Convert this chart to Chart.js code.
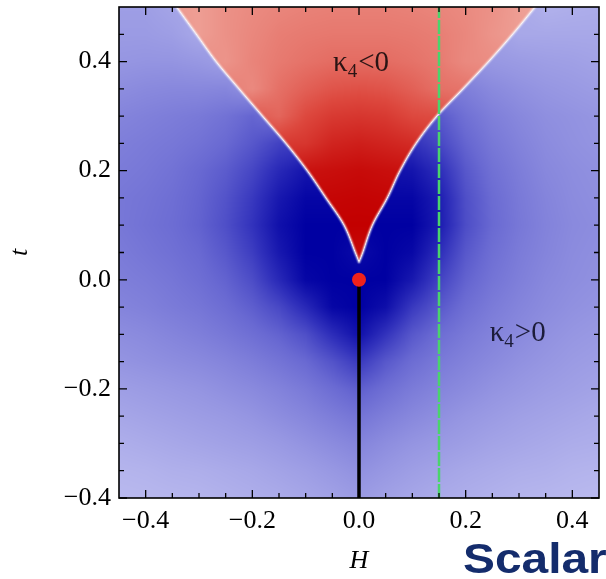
<!DOCTYPE html>
<html>
<head>
<meta charset="utf-8">
<script src="https://cdn.jsdelivr.net/npm/chart.js@4.4.1/dist/chart.umd.min.js"></script>
<style>
  html, body { margin: 0; padding: 0; background: #fff; }
  #wrap { width: 606px; height: 579px; position: relative; }
</style>
</head>
<body>
<div id="wrap"><canvas id="c" width="606" height="579"></canvas></div>
<script>
// ---- axis ranges and ticks -------------------------------------------
const hRange = [-0.45, 0.45];
const tRange = [-0.4, 0.5];
const majorTicksH = [-0.4, -0.2, 0, 0.2, 0.4];
const majorTicksT = [-0.4, -0.2, 0, 0.2, 0.4];
const minorTicksH = [-0.35, -0.3, -0.25, -0.15, -0.1, -0.05, 0.05, 0.1, 0.15, 0.25, 0.3, 0.35];
const minorTicksT = [-0.35, -0.3, -0.25, -0.15, -0.1, -0.05, 0.05, 0.1, 0.15, 0.25, 0.3, 0.35, 0.45];

// ---- |kappa_4| (normalised) on a regular H-t grid --------------------
const gridH = [-0.45, -0.4, -0.35, -0.3, -0.25, -0.2, -0.15, -0.1, -0.05, 0,
               0.05, 0.1, 0.15, 0.2, 0.25, 0.3, 0.35, 0.4, 0.45];
const gridT = [0.5, 0.45, 0.4, 0.35, 0.3, 0.25, 0.2, 0.15, 0.1, 0.05, 0,
               -0.05, -0.1, -0.15, -0.2, -0.25, -0.3, -0.35, -0.4];
const kappaMagnitude = [
  [0.20,0.20,0.16,0.14,0.22,0.26,0.29,0.31,0.32,0.32,0.32,0.31,0.29,0.26,0.22,0.14,0.08,0.10,0.11],
  [0.22,0.22,0.20,0.14,0.22,0.28,0.33,0.35,0.36,0.36,0.36,0.35,0.33,0.28,0.20,0.14,0.14,0.14,0.14],
  [0.25,0.26,0.26,0.24,0.20,0.30,0.35,0.39,0.42,0.42,0.42,0.39,0.35,0.27,0.24,0.22,0.20,0.19,0.17],
  [0.30,0.32,0.33,0.33,0.34,0.27,0.40,0.48,0.54,0.56,0.54,0.48,0.40,0.38,0.32,0.28,0.25,0.23,0.21],
  [0.35,0.37,0.39,0.41,0.45,0.52,0.45,0.60,0.68,0.70,0.68,0.60,0.58,0.46,0.38,0.33,0.29,0.27,0.25],
  [0.38,0.40,0.42,0.45,0.50,0.58,0.68,0.70,0.80,0.83,0.80,0.76,0.66,0.52,0.42,0.36,0.31,0.28,0.26],
  [0.40,0.42,0.45,0.50,0.56,0.66,0.80,0.90,0.92,0.94,0.92,0.90,0.78,0.58,0.46,0.39,0.33,0.30,0.28],
  [0.42,0.44,0.47,0.52,0.60,0.72,0.88,0.97,0.97,0.98,0.97,0.97,0.86,0.62,0.49,0.41,0.35,0.31,0.29],
  [0.42,0.45,0.48,0.53,0.62,0.75,0.92,1.00,1.00,1.00,1.00,1.00,0.87,0.63,0.50,0.42,0.36,0.32,0.30],
  [0.40,0.43,0.46,0.50,0.58,0.70,0.88,1.00,1.00,0.95,1.00,0.96,0.78,0.58,0.47,0.40,0.35,0.31,0.29],
  [0.38,0.40,0.43,0.47,0.53,0.63,0.80,0.97,1.00,1.00,1.00,0.88,0.68,0.53,0.44,0.38,0.33,0.30,0.28],
  [0.35,0.37,0.40,0.43,0.48,0.55,0.65,0.80,0.97,1.00,0.93,0.72,0.58,0.47,0.40,0.35,0.31,0.28,0.26],
  [0.30,0.32,0.35,0.38,0.42,0.47,0.53,0.62,0.78,0.92,0.75,0.58,0.48,0.41,0.36,0.32,0.28,0.25,0.23],
  [0.26,0.28,0.30,0.32,0.35,0.39,0.44,0.50,0.60,0.72,0.58,0.48,0.41,0.36,0.32,0.28,0.25,0.22,0.20],
  [0.20,0.22,0.24,0.26,0.29,0.32,0.36,0.41,0.48,0.55,0.47,0.40,0.35,0.31,0.27,0.24,0.21,0.19,0.17],
  [0.15,0.17,0.19,0.21,0.23,0.26,0.30,0.34,0.39,0.44,0.38,0.33,0.29,0.25,0.22,0.19,0.17,0.15,0.13],
  [0.10,0.12,0.14,0.16,0.18,0.20,0.23,0.27,0.31,0.35,0.30,0.26,0.23,0.20,0.17,0.15,0.13,0.11,0.10],
  [0.06,0.07,0.09,0.10,0.12,0.14,0.17,0.20,0.24,0.28,0.24,0.20,0.17,0.14,0.12,0.10,0.09,0.07,0.06],
  [0.03,0.04,0.05,0.06,0.08,0.10,0.12,0.15,0.18,0.22,0.18,0.15,0.12,0.10,0.08,0.06,0.05,0.04,0.03]
];

// ---- kappa_4 = 0 contour (edges of the negative wedge) ---------------
const zeroT      = [0.033, 0.05,  0.1,   0.15,  0.2,   0.25,  0.3,   0.35,  0.4,   0.45,  0.5,   0.55];
const zeroLeftH  = [0,    -0.007, -0.028, -0.062, -0.097, -0.137, -0.181, -0.225, -0.268, -0.305, -0.342, -0.378];
const zeroRightH = [0,     0.007,  0.025,  0.053,  0.077,  0.107,  0.146,  0.195,  0.243,  0.288,  0.33,   0.371];

// ---- overlaid lines and the critical point ---------------------------
const crossoverH = [0, 0];
const crossoverT = [0, -0.4];
const criticalH = [0];
const criticalT = [0];
const probeH = [0.15, 0.15];
const probeT = [-0.4, 0.5];

// ---- colour ramps for the two signs ----------------------------------
const blueRamp = [[0, 190,190,240], [0.25, 150,150,226], [0.5, 105,105,210], [0.75, 50,50,188], [1, 0,0,162]];
const redRamp  = [[0, 242,180,170], [0.3, 233,132,122], [0.6, 221,72,62], [1, 195,0,0]];

function ramp(stops, v) {
  v = Math.max(0, Math.min(1, v));
  for (let i = 1; i < stops.length; i++) {
    if (v <= stops[i][0]) {
      const a = stops[i - 1], b = stops[i];
      const f = (v - a[0]) / (b[0] - a[0]);
      return [a[1] + (b[1] - a[1]) * f, a[2] + (b[2] - a[2]) * f, a[3] + (b[3] - a[3]) * f];
    }
  }
  const l = stops[stops.length - 1];
  return [l[1], l[2], l[3]];
}

function sampleMagnitude(H, t) {
  const nx = gridH.length, ny = gridT.length;
  let fx = (H - gridH[0]) / (gridH[1] - gridH[0]);
  let fy = (gridT[0] - t) / (gridT[0] - gridT[1]);
  fx = Math.max(0, Math.min(nx - 1.0001, fx));
  fy = Math.max(0, Math.min(ny - 1.0001, fy));
  const i = Math.floor(fx), j = Math.floor(fy);
  const u = fx - i, v = fy - j;
  const r0 = kappaMagnitude[j], r1 = kappaMagnitude[j + 1];
  return (r0[i] * (1 - u) + r0[i + 1] * u) * (1 - v) + (r1[i] * (1 - u) + r1[i + 1] * u) * v;
}

// smooth curve (Catmull-Rom) through the contour points of one edge
function smoothEdge(hs, ts, steps) {
  const out = [];
  const n = hs.length;
  const P = i => [hs[Math.max(0, Math.min(n - 1, i))], ts[Math.max(0, Math.min(n - 1, i))]];
  for (let i = 0; i < n - 1; i++) {
    const p0 = P(i - 1), p1 = P(i), p2 = P(i + 1), p3 = P(i + 2);
    for (let s = 0; s < steps; s++) {
      const u = s / steps, u2 = u * u, u3 = u2 * u;
      const f = k => 0.5 * ((2 * p1[k]) + (-p0[k] + p2[k]) * u +
        (2 * p0[k] - 5 * p1[k] + 4 * p2[k] - p3[k]) * u2 + (-p0[k] + 3 * p1[k] - 3 * p2[k] + p3[k]) * u3);
      out.push([f(0), f(1)]);
    }
  }
  out.push([hs[n - 1], ts[n - 1]]);
  return out;
}

function edgeAt(edge, t) {
  if (t <= edge[0][1]) return edge[0][0];
  for (let i = 0; i < edge.length - 1; i++) {
    const a = edge[i], b = edge[i + 1];
    if (t <= b[1]) return a[0] + (b[0] - a[0]) * (t - a[1]) / ((b[1] - a[1]) || 1e-9);
  }
  return edge[edge.length - 1][0];
}

function segDist(px, py, ax, ay, bx, by) {
  const dx = bx - ax, dy = by - ay;
  const len2 = dx * dx + dy * dy;
  let s = len2 > 0 ? ((px - ax) * dx + (py - ay) * dy) / len2 : 0;
  s = Math.max(0, Math.min(1, s));
  const qx = ax + s * dx - px, qy = ay + s * dy - py;
  return Math.sqrt(qx * qx + qy * qy);
}

function buildDensity(xs, ys, area) {
  const w = Math.round(area.right - area.left), h = Math.round(area.bottom - area.top);
  const off = document.createElement('canvas');
  off.width = w; off.height = h;
  const octx = off.getContext('2d');
  const img = octx.createImageData(w, h);
  const colH = new Float64Array(w), rowT = new Float64Array(h);
  for (let i = 0; i < w; i++) colH[i] = xs.getValueForPixel(area.left + i + 0.5);
  for (let j = 0; j < h; j++) rowT[j] = ys.getValueForPixel(area.top + j + 0.5);

  const leftEdge = smoothEdge(zeroLeftH, zeroT, 8);
  const rightEdge = smoothEdge(zeroRightH, zeroT, 8);
  const toPix = p => [xs.getPixelForValue(p[0]) - area.left, ys.getPixelForValue(p[1]) - area.top];
  const poly = leftEdge.slice().reverse().map(toPix).concat(rightEdge.slice(1).map(toPix));
  const tipT = zeroT[0];

  const d = img.data;
  for (let j = 0; j < h; j++) {
    const t = rowT[j];
    const hl = edgeAt(leftEdge, t), hr = edgeAt(rightEdge, t);
    for (let i = 0; i < w; i++) {
      const H = colH[i];
      const m = sampleMagnitude(H, t);
      const neg = t > tipT && H > hl && H < hr;
      const c = neg ? ramp(redRamp, m) : ramp(blueRamp, m);
      const px = i + 0.5, py = j + 0.5;
      let dist = 1e9;
      for (let k = 0; k < poly.length - 1; k++) {
        const pa = poly[k], pb = poly[k + 1];
        if (Math.abs(pa[1] - py) > 40 && Math.abs(pb[1] - py) > 40 &&
            Math.sign(pa[1] - py) === Math.sign(pb[1] - py)) continue;
        const e = segDist(px, py, pa[0], pa[1], pb[0], pb[1]);
        if (e < dist) dist = e;
      }
      let f = Math.min(1, dist / 3.2);
      f = f * (2 - f);
      const o = (j * w + i) * 4;
      d[o]     = 250 + (c[0] - 250) * f;
      d[o + 1] = 245 + (c[1] - 245) * f;
      d[o + 2] = 248 + (c[2] - 248) * f;
      d[o + 3] = 255;
    }
  }
  octx.putImageData(img, 0, 0);
  return off;
}

const densityPlugin = {
  id: 'kappaDensity',
  beforeDatasetsDraw(chart) {
    const { ctx, chartArea: a, scales } = chart;
    if (!chart.$density) chart.$density = buildDensity(scales.x, scales.y, a);
    ctx.save();
    ctx.drawImage(chart.$density, a.left, a.top);
    ctx.restore();
  }
};

function drawKappa(ctx, x, y, rel, align) {
  const big = '29px "Liberation Serif"', small = '19px "Liberation Serif"';
  ctx.font = big; const w1 = ctx.measureText('\u03BA').width;
  ctx.font = small; const w2 = ctx.measureText('4').width;
  ctx.font = big; const w3 = ctx.measureText(rel).width;
  const total = w1 + w2 + w3;
  const x0 = align === 'center' ? x - total / 2 : x;
  ctx.textAlign = 'left';
  ctx.textBaseline = 'alphabetic';
  ctx.font = big; ctx.fillText('\u03BA', x0, y);
  ctx.font = small; ctx.fillText('4', x0 + w1, y + 6);
  ctx.font = big; ctx.fillText(rel, x0 + w1 + w2 + 1, y);
}

const framePlugin = {
  id: 'frameTicks',
  afterDatasetsDraw(chart) {
    const { ctx, chartArea: a, scales: { x, y } } = chart;
    ctx.save();
    ctx.strokeStyle = '#000';
    ctx.lineWidth = 1.6;
    ctx.strokeRect(a.left, a.top, a.right - a.left, a.bottom - a.top);
    ctx.lineWidth = 1.3;
    ctx.beginPath();
    const tickX = (vals, len) => vals.forEach(v => {
      const px = x.getPixelForValue(v);
      ctx.moveTo(px, a.bottom); ctx.lineTo(px, a.bottom - len);
      ctx.moveTo(px, a.top); ctx.lineTo(px, a.top + len);
    });
    const tickY = (vals, len) => vals.forEach(v => {
      const py = y.getPixelForValue(v);
      ctx.moveTo(a.left, py); ctx.lineTo(a.left + len, py);
      ctx.moveTo(a.right, py); ctx.lineTo(a.right - len, py);
    });
    tickX(majorTicksH, 8); tickX(minorTicksH, 5);
    tickY(majorTicksT, 8); tickY(minorTicksT, 5);
    ctx.stroke();

    // region labels
    ctx.fillStyle = '#2a1414';
    drawKappa(ctx, x.getPixelForValue(0.003), y.getPixelForValue(0.383), '<0', 'center');
    ctx.fillStyle = '#1c1c3a';
    drawKappa(ctx, x.getPixelForValue(0.245), y.getPixelForValue(-0.113), '>0', 'left');
    ctx.restore();
  },
  afterDraw(chart) {
    const ctx = chart.ctx;
    ctx.save();
    ctx.fillStyle = '#142c6c';
    ctx.font = 'bold 42px "Liberation Sans"';
    ctx.textAlign = 'left';
    ctx.textBaseline = 'alphabetic';
    ctx.translate(463, 573);
    ctx.scale(1.14, 1);
    ctx.fillText('Scalar', 0, 0);
    ctx.restore();
  }
};

const fmt = v => (Math.abs(v) < 1e-9 ? '0.0' : (v < 0 ? '\u2212' : '') + Math.abs(v).toFixed(1));
const tickFont = { family: 'Liberation Serif', size: 26 };

new Chart(document.getElementById('c'), {
  type: 'scatter',
  data: {
    datasets: [
      {
        label: 'critical point',
        data: criticalH.map((h, i) => ({ x: h, y: criticalT[i] })),
        pointRadius: 7, pointBackgroundColor: '#f0221c', pointBorderWidth: 0,
        order: 0
      },
      {
        label: 'crossover',
        type: 'line',
        data: crossoverH.map((h, i) => ({ x: h, y: crossoverT[i] })),
        borderColor: '#000', borderWidth: 3.5, pointRadius: 0, fill: false,
        order: 1
      },
      {
        label: 'probe',
        type: 'line',
        data: probeH.map((h, i) => ({ x: h, y: probeT[i] })),
        borderColor: '#4ad46c', borderWidth: 2.5, borderDash: [14, 2],
        pointRadius: 0, fill: false,
        order: 2
      }
    ]
  },
  options: {
    responsive: false,
    animation: false,
    devicePixelRatio: 1,
    layout: { padding: { left: 0, right: 3, top: 7, bottom: 0 } },
    plugins: { legend: { display: false }, tooltip: { enabled: false } },
    scales: {
      x: {
        type: 'linear', min: hRange[0], max: hRange[1],
        afterBuildTicks: s => { s.ticks = majorTicksH.map(v => ({ value: v })); },
        afterFit: s => { s.height = 81; s.paddingLeft = 0; s.paddingRight = 0; },
        grid: { display: false, drawTicks: false },
        border: { display: false },
        ticks: { font: tickFont, color: '#000', padding: 8, maxRotation: 0, callback: v => fmt(v) },
        title: { display: true, text: 'H', color: '#000',
                 font: { family: 'Liberation Serif', size: 26, style: 'italic' },
                 padding: { top: 0, bottom: 2 } }
      },
      y: {
        type: 'linear', min: tRange[0], max: tRange[1],
        afterBuildTicks: s => { s.ticks = majorTicksT.map(v => ({ value: v })); },
        afterFit: s => { s.width = 119; s.paddingTop = 0; s.paddingBottom = 0; },
        grid: { display: false, drawTicks: false },
        border: { display: false },
        ticks: { font: tickFont, color: '#000', padding: 8, callback: v => fmt(v) },
        title: { display: true, text: 't', color: '#000',
                 font: { family: 'Liberation Serif', size: 26, style: 'italic' },
                 padding: { top: 5, bottom: 0 } }
      }
    }
  },
  plugins: [densityPlugin, framePlugin]
});
</script>
</body>
</html>
